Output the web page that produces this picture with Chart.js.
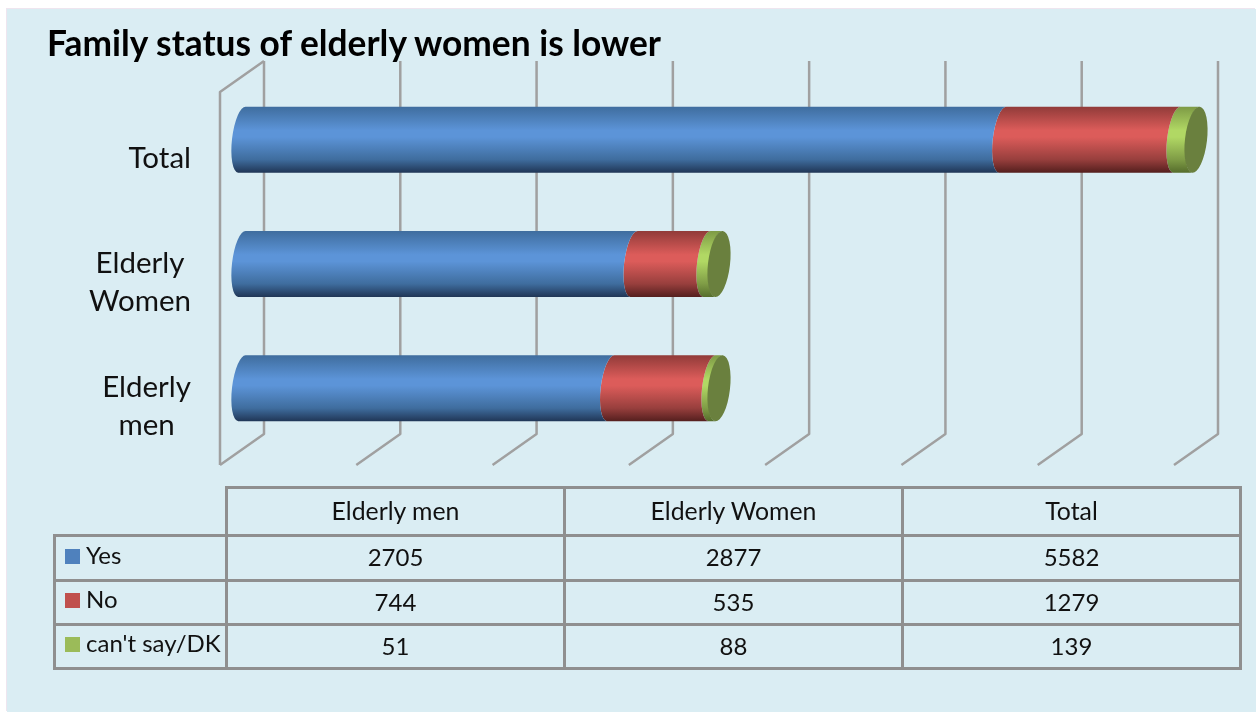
<!DOCTYPE html>
<html>
<head>
<meta charset="utf-8">
<title>Family status of elderly women is lower</title>
<script src="https://cdn.jsdelivr.net/npm/chart.js@4"></script>
<style>
    html, body { margin: 0; padding: 0; background: #fff; }
    #panel {
        position: absolute; left: 7px; top: 9px; width: 1249px; height: 703px;
        background: #daedf3; box-shadow: -1px -1px 0 0 #eee5ef;
    }
    #title {
        position: absolute; left: 47px; top: 21px; margin: 0;
        font: bold 35.3px Lato, sans-serif; color: #000; white-space: nowrap;
    }
    #chart { position: absolute; left: 0; top: 0; filter: blur(0.5px); }
    #dataTable {
        position: absolute; left: 53px; top: 486px; border-collapse: collapse; table-layout: fixed;
        width: 1186px; font: 24px Lato, sans-serif; color: #111;
    }
    #dataTable td { border: 3px solid #8f8f8f; text-align: center; padding: 0 0 3px 0; box-sizing: border-box; }
    #dataTable td.blank { border-top: none; border-left: none; }
    #dataTable td.colHead { font-size: 24.8px; }
    #dataTable td.rowHead { text-align: left; padding: 0 0 8px 9px; white-space: nowrap; }
    #dataTable .swatch { display: inline-block; width: 15px; height: 15px; margin-right: 6px; }
</style>
</head>
<body>
<div id="panel"></div>
<canvas id="chart" width="1256" height="712"></canvas>
<h1 id="title">Family status of elderly women is lower</h1>
<table id="dataTable"></table>

<script>
// Chart data
const categories = ['Elderly men', 'Elderly Women', 'Total'];
const seriesNames = ['Yes', 'No', "can't say/DK"];
const yesValues = [2705, 2877, 5582];
const noValues = [744, 535, 1279];
const dkValues = [51, 88, 139];
const axisTicks = [0, 1000, 2000, 3000, 4000, 5000, 6000, 7000];

// Colours
const legendColors = ['#4f81bd', '#c0504d', '#9bbb59'];
const yesShades = ['#3f6d9e', '#5c94d8', '#5c94d8', '#3f6d9e', '#203656'];
const noShades = ['#913b39', '#dc5c5a', '#dc5c5a', '#983f3d', '#541f1e'];
const dkShades = ['#7d9a45', '#b1d864', '#b1d864', '#7f9c46', '#566d2c'];
const shadeSets = [yesShades, noShades, dkShades];
const capColor = '#6a803e';
const wallColor = '#a0a0a0';

// 3D layout
const depthX = 44;
const depthY = 31;
const barShiftX = 22;
const barShiftY = -14.5;
const endRadius = 10;
const endTilt = 6.7 * Math.PI / 180;

// Bars are drawn as a cylinder piece: both ends follow the left side of a tilted ellipse
Chart.BarElement.prototype.draw = function (ctx) {
    const { x, y, base, height } = this.getProps(['x', 'y', 'base', 'height'], true);
    const shades = shadeSets[legendColors.indexOf(this.options.backgroundColor)];
    const ry = height / 2 / Math.cos(endTilt);

    const grad = ctx.createLinearGradient(0, y - height / 2, 0, y + height / 2);
    grad.addColorStop(0, shades[0]);
    grad.addColorStop(0.36, shades[1]);
    grad.addColorStop(0.46, shades[2]);
    grad.addColorStop(0.8, shades[3]);
    grad.addColorStop(1, shades[4]);

    ctx.save();
    ctx.fillStyle = grad;
    ctx.beginPath();
    ctx.ellipse(base, y, endRadius, ry, endTilt, -Math.PI / 2, Math.PI / 2, true);
    ctx.ellipse(x, y, endRadius, ry, endTilt, Math.PI / 2, -Math.PI / 2, false);
    ctx.closePath();
    ctx.fill();
    ctx.restore();
};

const depthPlugin = {
    id: 'depthPlugin',
    beforeDatasetsDraw(chart) {
        const { ctx, chartArea, scales } = chart;
        ctx.save();
        ctx.strokeStyle = wallColor;
        ctx.lineWidth = 2.5;
        ctx.lineJoin = 'round';

        // Left wall outline
        ctx.beginPath();
        ctx.moveTo(chartArea.left, chartArea.bottom);
        ctx.lineTo(chartArea.left, chartArea.top);
        ctx.lineTo(chartArea.left + depthX, chartArea.top - depthY);
        ctx.stroke();

        // Floor and back wall line for each tick
        scales.x.ticks.forEach((tick) => {
            const px = scales.x.getPixelForValue(tick.value);
            ctx.beginPath();
            ctx.moveTo(px, chartArea.bottom);
            ctx.lineTo(px + depthX, chartArea.bottom - depthY);
            ctx.lineTo(px + depthX, chartArea.top - depthY);
            ctx.stroke();
        });
        ctx.restore();

        // Bars stand in the middle of the depth
        ctx.save();
        ctx.translate(barShiftX, barShiftY);
    },
    afterDatasetsDraw(chart) {
        const { ctx } = chart;

        // Closing ellipse at the end of each bar
        const lastMeta = chart.getDatasetMeta(chart.data.datasets.length - 1);
        lastMeta.data.forEach((bar) => {
            ctx.fillStyle = capColor;
            ctx.beginPath();
            ctx.ellipse(bar.x, bar.y, endRadius + 1, bar.height / 2 / Math.cos(endTilt), endTilt, 0, Math.PI * 2);
            ctx.fill();
        });
        ctx.restore();

        // Category labels, lines centred inside a right aligned block
        ctx.save();
        ctx.font = '29.5px Lato, sans-serif';
        ctx.fillStyle = '#111';
        ctx.textAlign = 'center';
        ctx.textBaseline = 'middle';
        categories.forEach((name, i) => {
            const lines = name.split(' ');
            const widest = Math.max(...lines.map((l) => ctx.measureText(l).width));
            const cx = 191 - widest / 2;
            const cy = chart.scales.y.getPixelForValue(i) + 4;
            lines.forEach((line, n) => {
                ctx.fillText(line, cx, cy + (n - (lines.length - 1) / 2) * 38);
            });
        });
        ctx.restore();
    }
};

// Create chart
const chart = new Chart(document.getElementById('chart'), {
    type: 'bar',
    data: {
        labels: categories,
        datasets: [
            { label: seriesNames[0], data: yesValues, backgroundColor: legendColors[0], barThickness: 66, clip: false },
            { label: seriesNames[1], data: noValues, backgroundColor: legendColors[1], barThickness: 66, clip: false },
            { label: seriesNames[2], data: dkValues, backgroundColor: legendColors[2], barThickness: 66, clip: false }
        ]
    },
    options: {
        indexAxis: 'y',
        responsive: false,
        animation: false,
        layout: { padding: { left: 0, top: 92, right: 82, bottom: 247 } },
        plugins: {
            legend: { display: false },
            tooltip: { enabled: false }
        },
        scales: {
            x: {
                stacked: true,
                min: axisTicks[0],
                max: axisTicks[axisTicks.length - 1],
                afterBuildTicks: (scale) => { scale.ticks = axisTicks.map((value) => ({ value })); },
                afterFit: (scale) => { scale.height = 0; },
                grid: { display: false },
                border: { display: false },
                ticks: { display: false }
            },
            y: {
                stacked: true,
                reverse: true,
                afterFit: (scale) => { scale.width = 220; },
                grid: { display: false },
                border: { display: false },
                ticks: { display: false }
            }
        }
    },
    plugins: [depthPlugin]
});

// Data table under the chart
function buildTable() {
    const table = document.getElementById('dataTable');
    const rows = [yesValues, noValues, dkValues];
    const rowHeights = [45, 44, 44];
    let html = '<colgroup><col style="width:172px">' + categories.map(() => '<col style="width:338px">').join('') + '</colgroup>';
    html += '<tr style="height:48px"><td class="blank"></td>' + categories.map((c) => `<td class="colHead">${c}</td>`).join('') + '</tr>';
    rows.forEach((values, i) => {
        html += `<tr style="height:${rowHeights[i]}px"><td class="rowHead"><span class="swatch" style="background:${legendColors[i]}"></span>${seriesNames[i]}</td>`;
        html += values.map((v) => `<td>${v}</td>`).join('') + '</tr>';
    });
    table.innerHTML = html;
}

buildTable();
</script>
</body>
</html>
